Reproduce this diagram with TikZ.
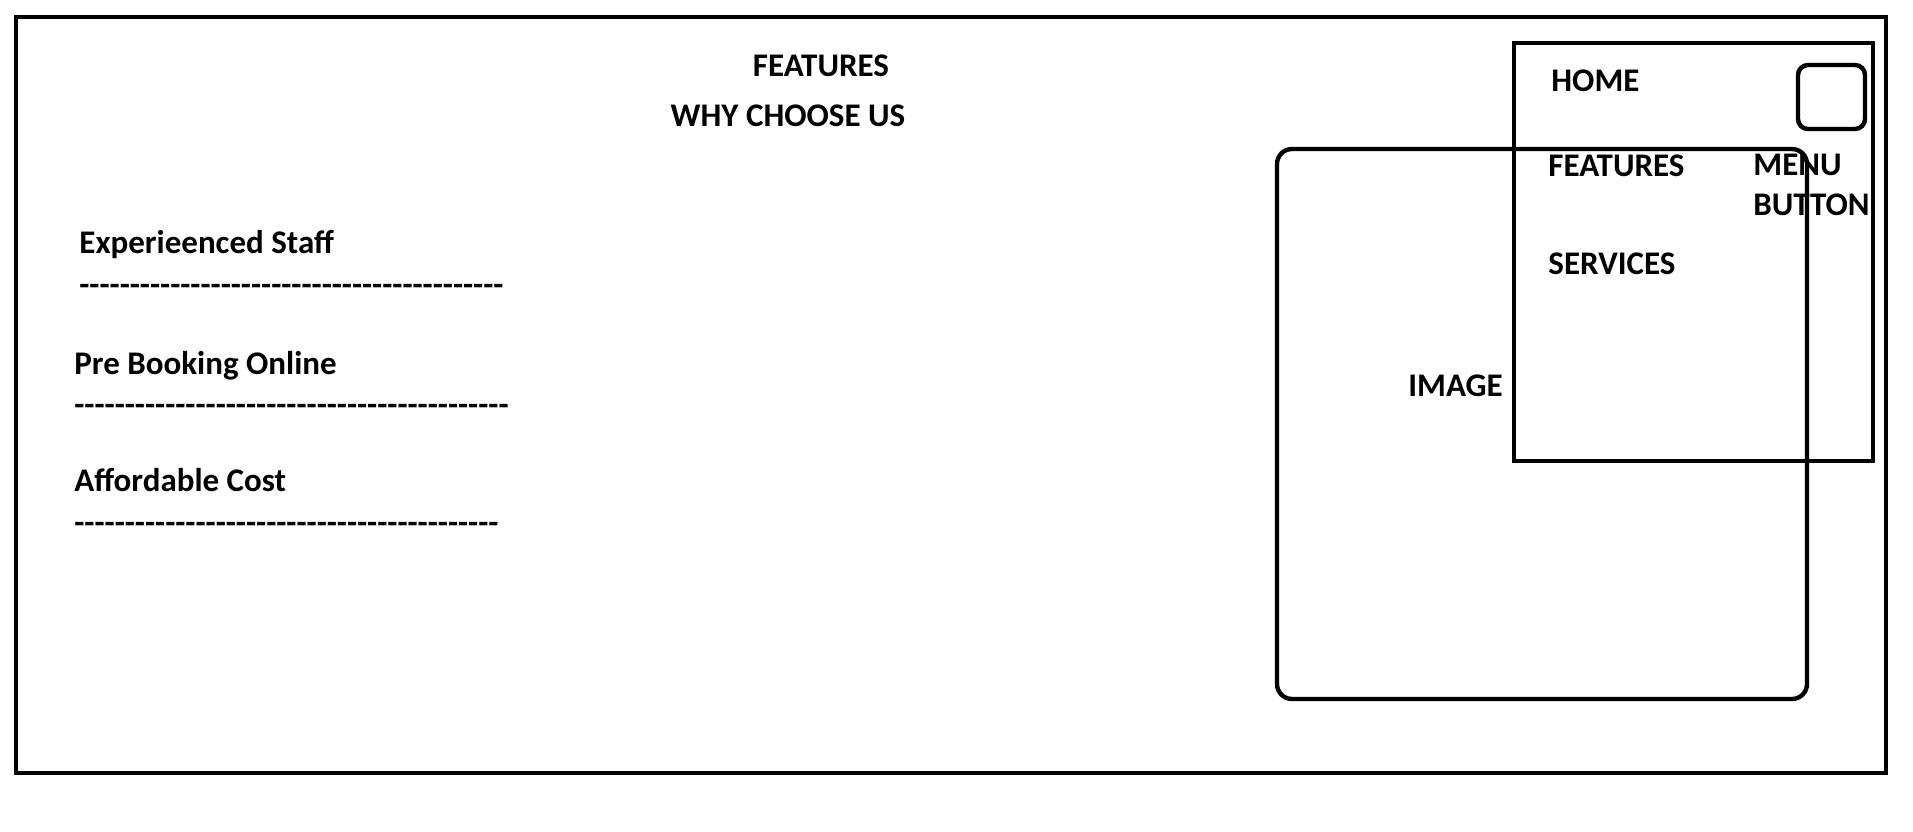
\documentclass[tikz,border=0pt]{standalone}
\usepackage{fontspec}
\setmainfont{Carlito}[Ligatures=TeXOff]
\begin{document}
\begin{tikzpicture}[x=0.5pt,y=-0.5pt,
  frame/.style={line width=2.4pt},
  box/.style={line width=2.2pt},
  roundbox/.style={line width=2.2pt,rounded corners=7.5pt},
  label/.style={font=\fontsize{16.5pt}{19pt}\selectfont\bfseries,inner sep=0pt},
  dashrule/.style={label,anchor=base west}]
\useasboundingbox (0,0) rectangle (1913,831);
% page frame
\draw[frame] (16,17) rectangle (1886,773);
% heading
\node[label,anchor=base] (title) at (821,76) {FEATURES};
\node[label,anchor=base] (why) at (788,126) {WHY CHOOSE US};
% feature list
\node[label,anchor=base west] (staff) at (79,253) {Experieenced Staff};
\node[dashrule] (staffline) at (79,295) {------------------------------------------};
\node[label,anchor=base west] (booking) at (74,374) {Pre Booking Online};
\node[dashrule] (bookingline) at (74,415) {-------------------------------------------};
\node[label,anchor=base west] (cost) at (74,491) {Affordable Cost};
\node[dashrule] (costline) at (74,533) {------------------------------------------};
% image placeholder
\draw[roundbox] (1277,149) rectangle (1807,699);
\node[label,anchor=base west] (image) at (1408,396) {IMAGE};
% navigation menu
\draw[box] (1514,43) rectangle (1873,461);
\draw[box,rounded corners=5pt] (1798,65) rectangle (1865,129);
\node[label,anchor=base west] (home) at (1551,91) {HOME};
\node[label,anchor=base west] (features) at (1548,176) {FEATURES};
\node[label,anchor=base west] (services) at (1548,274) {SERVICES};
\node[label,anchor=base west] (menu) at (1753,175) {MENU};
\node[label,anchor=base west] (button) at (1753,215) {BUTTON};
\end{tikzpicture}
\end{document}
